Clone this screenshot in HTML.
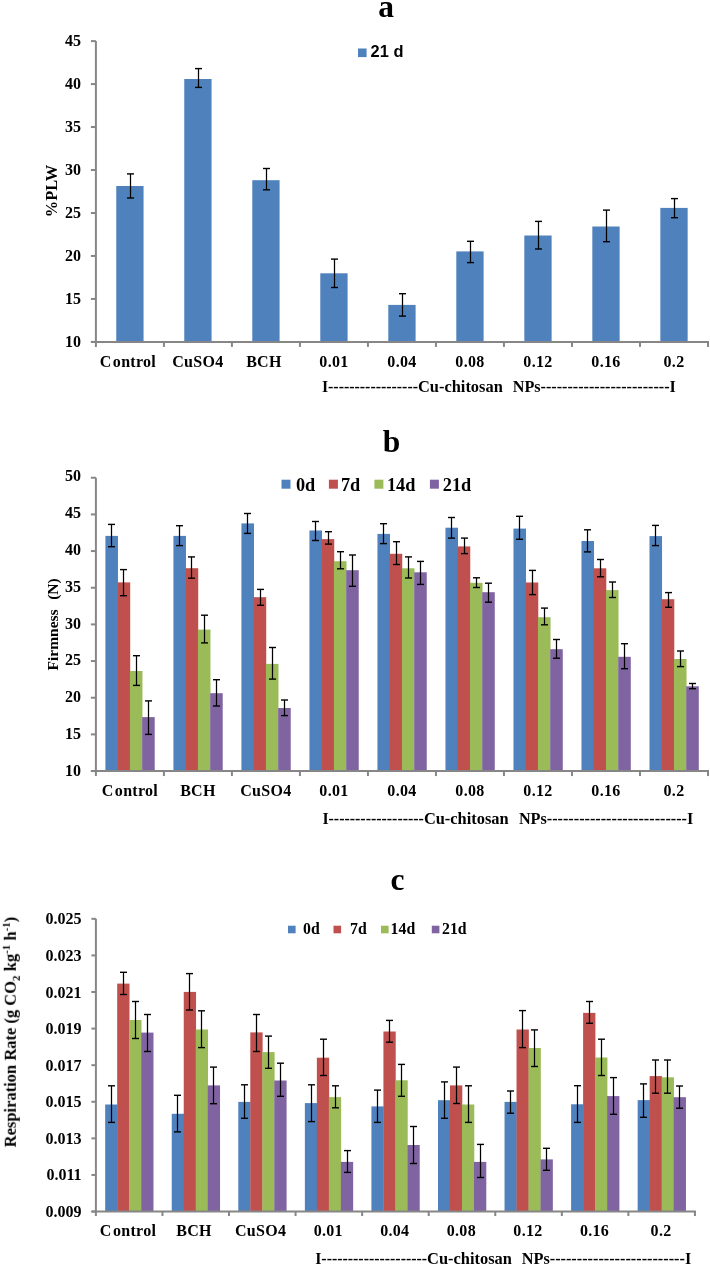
<!DOCTYPE html>
<html><head><meta charset="utf-8"><title>Figure</title>
<style>html,body{margin:0;padding:0;background:#fff;}svg{display:block;}</style></head>
<body><svg width="710" height="1265" viewBox="0 0 710 1265" shape-rendering="crispEdges">
<rect width="710" height="1265" fill="#fff"/>
<g shape-rendering="auto">
<rect x="116.25" y="186.0" width="27.3" height="155.90" fill="#4F81BD"/>
<rect x="184.27" y="79.0" width="27.3" height="262.90" fill="#4F81BD"/>
<rect x="252.28" y="180.2" width="27.3" height="161.70" fill="#4F81BD"/>
<rect x="320.29" y="273.3" width="27.3" height="68.60" fill="#4F81BD"/>
<rect x="388.30" y="304.9" width="27.3" height="37.00" fill="#4F81BD"/>
<rect x="456.31" y="251.4" width="27.3" height="90.50" fill="#4F81BD"/>
<rect x="524.32" y="235.5" width="27.3" height="106.40" fill="#4F81BD"/>
<rect x="592.33" y="226.5" width="27.3" height="115.40" fill="#4F81BD"/>
<rect x="660.34" y="207.9" width="27.3" height="134.00" fill="#4F81BD"/>
<line x1="130.50" y1="173.90" x2="130.50" y2="198.00" stroke="#000" stroke-width="1.25"/>
<line x1="127.00" y1="173.90" x2="134.00" y2="173.90" stroke="#000" stroke-width="1.4"/>
<line x1="127.00" y1="198.00" x2="134.00" y2="198.00" stroke="#000" stroke-width="1.4"/>
<line x1="198.50" y1="68.60" x2="198.50" y2="87.40" stroke="#000" stroke-width="1.25"/>
<line x1="195.00" y1="68.60" x2="202.00" y2="68.60" stroke="#000" stroke-width="1.4"/>
<line x1="195.00" y1="87.40" x2="202.00" y2="87.40" stroke="#000" stroke-width="1.4"/>
<line x1="266.50" y1="168.50" x2="266.50" y2="189.80" stroke="#000" stroke-width="1.25"/>
<line x1="263.00" y1="168.50" x2="270.00" y2="168.50" stroke="#000" stroke-width="1.4"/>
<line x1="263.00" y1="189.80" x2="270.00" y2="189.80" stroke="#000" stroke-width="1.4"/>
<line x1="334.50" y1="259.10" x2="334.50" y2="287.50" stroke="#000" stroke-width="1.25"/>
<line x1="331.00" y1="259.10" x2="338.00" y2="259.10" stroke="#000" stroke-width="1.4"/>
<line x1="331.00" y1="287.50" x2="338.00" y2="287.50" stroke="#000" stroke-width="1.4"/>
<line x1="402.50" y1="293.70" x2="402.50" y2="316.10" stroke="#000" stroke-width="1.25"/>
<line x1="399.00" y1="293.70" x2="406.00" y2="293.70" stroke="#000" stroke-width="1.4"/>
<line x1="399.00" y1="316.10" x2="406.00" y2="316.10" stroke="#000" stroke-width="1.4"/>
<line x1="470.50" y1="241.30" x2="470.50" y2="262.60" stroke="#000" stroke-width="1.25"/>
<line x1="467.00" y1="241.30" x2="474.00" y2="241.30" stroke="#000" stroke-width="1.4"/>
<line x1="467.00" y1="262.60" x2="474.00" y2="262.60" stroke="#000" stroke-width="1.4"/>
<line x1="538.50" y1="221.40" x2="538.50" y2="249.00" stroke="#000" stroke-width="1.25"/>
<line x1="535.00" y1="221.40" x2="542.00" y2="221.40" stroke="#000" stroke-width="1.4"/>
<line x1="535.00" y1="249.00" x2="542.00" y2="249.00" stroke="#000" stroke-width="1.4"/>
<line x1="606.50" y1="210.10" x2="606.50" y2="241.70" stroke="#000" stroke-width="1.25"/>
<line x1="603.00" y1="210.10" x2="610.00" y2="210.10" stroke="#000" stroke-width="1.4"/>
<line x1="603.00" y1="241.70" x2="610.00" y2="241.70" stroke="#000" stroke-width="1.4"/>
<line x1="674.50" y1="198.60" x2="674.50" y2="217.70" stroke="#000" stroke-width="1.25"/>
<line x1="671.00" y1="198.60" x2="678.00" y2="198.60" stroke="#000" stroke-width="1.4"/>
<line x1="671.00" y1="217.70" x2="678.00" y2="217.70" stroke="#000" stroke-width="1.4"/>
<line x1="95.9" y1="41.099999999999966" x2="95.9" y2="346.9" stroke="#868686" stroke-width="2"/>
<line x1="90.9" y1="341.90" x2="95.9" y2="341.90" stroke="#868686" stroke-width="2"/>
<line x1="90.9" y1="298.93" x2="95.9" y2="298.93" stroke="#868686" stroke-width="2"/>
<line x1="90.9" y1="255.96" x2="95.9" y2="255.96" stroke="#868686" stroke-width="2"/>
<line x1="90.9" y1="212.99" x2="95.9" y2="212.99" stroke="#868686" stroke-width="2"/>
<line x1="90.9" y1="170.01" x2="95.9" y2="170.01" stroke="#868686" stroke-width="2"/>
<line x1="90.9" y1="127.04" x2="95.9" y2="127.04" stroke="#868686" stroke-width="2"/>
<line x1="90.9" y1="84.07" x2="95.9" y2="84.07" stroke="#868686" stroke-width="2"/>
<line x1="90.9" y1="41.10" x2="95.9" y2="41.10" stroke="#868686" stroke-width="2"/>
<line x1="90.9" y1="341.9" x2="708.99" y2="341.9" stroke="#868686" stroke-width="2"/>
<line x1="163.91" y1="341.9" x2="163.91" y2="346.9" stroke="#868686" stroke-width="2"/>
<line x1="231.92" y1="341.9" x2="231.92" y2="346.9" stroke="#868686" stroke-width="2"/>
<line x1="299.93" y1="341.9" x2="299.93" y2="346.9" stroke="#868686" stroke-width="2"/>
<line x1="367.94" y1="341.9" x2="367.94" y2="346.9" stroke="#868686" stroke-width="2"/>
<line x1="435.95" y1="341.9" x2="435.95" y2="346.9" stroke="#868686" stroke-width="2"/>
<line x1="503.96" y1="341.9" x2="503.96" y2="346.9" stroke="#868686" stroke-width="2"/>
<line x1="571.97" y1="341.9" x2="571.97" y2="346.9" stroke="#868686" stroke-width="2"/>
<line x1="639.98" y1="341.9" x2="639.98" y2="346.9" stroke="#868686" stroke-width="2"/>
<line x1="707.99" y1="341.9" x2="707.99" y2="346.9" stroke="#868686" stroke-width="2"/>
<rect x="358" y="48.5" width="8.6" height="8.6" fill="#4F81BD"/>
<rect x="105.41" y="535.9" width="12.55" height="235.15" fill="#4F81BD"/>
<rect x="117.66" y="582.4" width="12.55" height="188.65" fill="#C0504D"/>
<rect x="129.91" y="671.0" width="12.55" height="100.05" fill="#9BBB59"/>
<rect x="142.16" y="717.1" width="12.55" height="53.95" fill="#8064A2"/>
<rect x="173.42" y="535.9" width="12.55" height="235.15" fill="#4F81BD"/>
<rect x="185.67" y="568.2" width="12.55" height="202.85" fill="#C0504D"/>
<rect x="197.92" y="629.6" width="12.55" height="141.45" fill="#9BBB59"/>
<rect x="210.17" y="693.2" width="12.55" height="77.85" fill="#8064A2"/>
<rect x="241.43" y="523.4" width="12.55" height="247.65" fill="#4F81BD"/>
<rect x="253.68" y="597.2" width="12.55" height="173.85" fill="#C0504D"/>
<rect x="265.93" y="663.9" width="12.55" height="107.15" fill="#9BBB59"/>
<rect x="278.18" y="708.0" width="12.55" height="63.05" fill="#8064A2"/>
<rect x="309.44" y="530.5" width="12.55" height="240.55" fill="#4F81BD"/>
<rect x="321.69" y="539.1" width="12.55" height="231.95" fill="#C0504D"/>
<rect x="333.94" y="561.2" width="12.55" height="209.85" fill="#9BBB59"/>
<rect x="346.19" y="570.2" width="12.55" height="200.85" fill="#8064A2"/>
<rect x="377.45" y="533.9" width="12.55" height="237.15" fill="#4F81BD"/>
<rect x="389.70" y="553.8" width="12.55" height="217.25" fill="#C0504D"/>
<rect x="401.95" y="568.3" width="12.55" height="202.75" fill="#9BBB59"/>
<rect x="414.20" y="572.3" width="12.55" height="198.75" fill="#8064A2"/>
<rect x="445.46" y="527.7" width="12.55" height="243.35" fill="#4F81BD"/>
<rect x="457.71" y="546.4" width="12.55" height="224.65" fill="#C0504D"/>
<rect x="469.96" y="582.8" width="12.55" height="188.25" fill="#9BBB59"/>
<rect x="482.21" y="592.2" width="12.55" height="178.85" fill="#8064A2"/>
<rect x="513.47" y="528.6" width="12.55" height="242.45" fill="#4F81BD"/>
<rect x="525.72" y="582.5" width="12.55" height="188.55" fill="#C0504D"/>
<rect x="537.97" y="617.2" width="12.55" height="153.85" fill="#9BBB59"/>
<rect x="550.22" y="649.2" width="12.55" height="121.85" fill="#8064A2"/>
<rect x="581.48" y="541.0" width="12.55" height="230.05" fill="#4F81BD"/>
<rect x="593.73" y="568.3" width="12.55" height="202.75" fill="#C0504D"/>
<rect x="605.98" y="590.1" width="12.55" height="180.95" fill="#9BBB59"/>
<rect x="618.23" y="656.8" width="12.55" height="114.25" fill="#8064A2"/>
<rect x="649.49" y="536.1" width="12.55" height="234.95" fill="#4F81BD"/>
<rect x="661.74" y="599.2" width="12.55" height="171.85" fill="#C0504D"/>
<rect x="673.99" y="659.0" width="12.55" height="112.05" fill="#9BBB59"/>
<rect x="686.24" y="686.3" width="12.55" height="84.75" fill="#8064A2"/>
<line x1="111.50" y1="524.40" x2="111.50" y2="546.70" stroke="#000" stroke-width="1.25"/>
<line x1="108.00" y1="524.40" x2="115.00" y2="524.40" stroke="#000" stroke-width="1.4"/>
<line x1="108.00" y1="546.70" x2="115.00" y2="546.70" stroke="#000" stroke-width="1.4"/>
<line x1="123.50" y1="569.60" x2="123.50" y2="595.70" stroke="#000" stroke-width="1.25"/>
<line x1="120.00" y1="569.60" x2="127.00" y2="569.60" stroke="#000" stroke-width="1.4"/>
<line x1="120.00" y1="595.70" x2="127.00" y2="595.70" stroke="#000" stroke-width="1.4"/>
<line x1="136.50" y1="655.70" x2="136.50" y2="685.40" stroke="#000" stroke-width="1.25"/>
<line x1="133.00" y1="655.70" x2="140.00" y2="655.70" stroke="#000" stroke-width="1.4"/>
<line x1="133.00" y1="685.40" x2="140.00" y2="685.40" stroke="#000" stroke-width="1.4"/>
<line x1="148.50" y1="700.90" x2="148.50" y2="734.40" stroke="#000" stroke-width="1.25"/>
<line x1="145.00" y1="700.90" x2="152.00" y2="700.90" stroke="#000" stroke-width="1.4"/>
<line x1="145.00" y1="734.40" x2="152.00" y2="734.40" stroke="#000" stroke-width="1.4"/>
<line x1="179.50" y1="525.70" x2="179.50" y2="545.60" stroke="#000" stroke-width="1.25"/>
<line x1="176.00" y1="525.70" x2="183.00" y2="525.70" stroke="#000" stroke-width="1.4"/>
<line x1="176.00" y1="545.60" x2="183.00" y2="545.60" stroke="#000" stroke-width="1.4"/>
<line x1="191.50" y1="556.90" x2="191.50" y2="578.20" stroke="#000" stroke-width="1.25"/>
<line x1="188.00" y1="556.90" x2="195.00" y2="556.90" stroke="#000" stroke-width="1.4"/>
<line x1="188.00" y1="578.20" x2="195.00" y2="578.20" stroke="#000" stroke-width="1.4"/>
<line x1="204.50" y1="615.20" x2="204.50" y2="642.90" stroke="#000" stroke-width="1.25"/>
<line x1="201.00" y1="615.20" x2="208.00" y2="615.20" stroke="#000" stroke-width="1.4"/>
<line x1="201.00" y1="642.90" x2="208.00" y2="642.90" stroke="#000" stroke-width="1.4"/>
<line x1="216.50" y1="679.70" x2="216.50" y2="706.00" stroke="#000" stroke-width="1.25"/>
<line x1="213.00" y1="679.70" x2="220.00" y2="679.70" stroke="#000" stroke-width="1.4"/>
<line x1="213.00" y1="706.00" x2="220.00" y2="706.00" stroke="#000" stroke-width="1.4"/>
<line x1="247.50" y1="513.50" x2="247.50" y2="533.40" stroke="#000" stroke-width="1.25"/>
<line x1="244.00" y1="513.50" x2="251.00" y2="513.50" stroke="#000" stroke-width="1.4"/>
<line x1="244.00" y1="533.40" x2="251.00" y2="533.40" stroke="#000" stroke-width="1.4"/>
<line x1="260.50" y1="589.40" x2="260.50" y2="605.30" stroke="#000" stroke-width="1.25"/>
<line x1="257.00" y1="589.40" x2="264.00" y2="589.40" stroke="#000" stroke-width="1.4"/>
<line x1="257.00" y1="605.30" x2="264.00" y2="605.30" stroke="#000" stroke-width="1.4"/>
<line x1="272.50" y1="647.50" x2="272.50" y2="679.10" stroke="#000" stroke-width="1.25"/>
<line x1="269.00" y1="647.50" x2="276.00" y2="647.50" stroke="#000" stroke-width="1.4"/>
<line x1="269.00" y1="679.10" x2="276.00" y2="679.10" stroke="#000" stroke-width="1.4"/>
<line x1="284.50" y1="700.00" x2="284.50" y2="715.60" stroke="#000" stroke-width="1.25"/>
<line x1="281.00" y1="700.00" x2="288.00" y2="700.00" stroke="#000" stroke-width="1.4"/>
<line x1="281.00" y1="715.60" x2="288.00" y2="715.60" stroke="#000" stroke-width="1.4"/>
<line x1="315.50" y1="521.50" x2="315.50" y2="540.50" stroke="#000" stroke-width="1.25"/>
<line x1="312.00" y1="521.50" x2="319.00" y2="521.50" stroke="#000" stroke-width="1.4"/>
<line x1="312.00" y1="540.50" x2="319.00" y2="540.50" stroke="#000" stroke-width="1.4"/>
<line x1="328.50" y1="531.70" x2="328.50" y2="544.10" stroke="#000" stroke-width="1.25"/>
<line x1="325.00" y1="531.70" x2="332.00" y2="531.70" stroke="#000" stroke-width="1.4"/>
<line x1="325.00" y1="544.10" x2="332.00" y2="544.10" stroke="#000" stroke-width="1.4"/>
<line x1="340.50" y1="551.70" x2="340.50" y2="568.80" stroke="#000" stroke-width="1.25"/>
<line x1="337.00" y1="551.70" x2="344.00" y2="551.70" stroke="#000" stroke-width="1.4"/>
<line x1="337.00" y1="568.80" x2="344.00" y2="568.80" stroke="#000" stroke-width="1.4"/>
<line x1="352.50" y1="555.00" x2="352.50" y2="586.30" stroke="#000" stroke-width="1.25"/>
<line x1="349.00" y1="555.00" x2="356.00" y2="555.00" stroke="#000" stroke-width="1.4"/>
<line x1="349.00" y1="586.30" x2="356.00" y2="586.30" stroke="#000" stroke-width="1.4"/>
<line x1="383.50" y1="523.70" x2="383.50" y2="543.60" stroke="#000" stroke-width="1.25"/>
<line x1="380.00" y1="523.70" x2="387.00" y2="523.70" stroke="#000" stroke-width="1.4"/>
<line x1="380.00" y1="543.60" x2="387.00" y2="543.60" stroke="#000" stroke-width="1.4"/>
<line x1="396.50" y1="541.70" x2="396.50" y2="564.50" stroke="#000" stroke-width="1.25"/>
<line x1="393.00" y1="541.70" x2="400.00" y2="541.70" stroke="#000" stroke-width="1.4"/>
<line x1="393.00" y1="564.50" x2="400.00" y2="564.50" stroke="#000" stroke-width="1.4"/>
<line x1="408.50" y1="556.90" x2="408.50" y2="578.00" stroke="#000" stroke-width="1.25"/>
<line x1="405.00" y1="556.90" x2="412.00" y2="556.90" stroke="#000" stroke-width="1.4"/>
<line x1="405.00" y1="578.00" x2="412.00" y2="578.00" stroke="#000" stroke-width="1.4"/>
<line x1="420.50" y1="561.40" x2="420.50" y2="584.40" stroke="#000" stroke-width="1.25"/>
<line x1="417.00" y1="561.40" x2="424.00" y2="561.40" stroke="#000" stroke-width="1.4"/>
<line x1="417.00" y1="584.40" x2="424.00" y2="584.40" stroke="#000" stroke-width="1.4"/>
<line x1="451.50" y1="517.50" x2="451.50" y2="538.10" stroke="#000" stroke-width="1.25"/>
<line x1="448.00" y1="517.50" x2="455.00" y2="517.50" stroke="#000" stroke-width="1.4"/>
<line x1="448.00" y1="538.10" x2="455.00" y2="538.10" stroke="#000" stroke-width="1.4"/>
<line x1="464.50" y1="538.10" x2="464.50" y2="553.60" stroke="#000" stroke-width="1.25"/>
<line x1="461.00" y1="538.10" x2="468.00" y2="538.10" stroke="#000" stroke-width="1.4"/>
<line x1="461.00" y1="553.60" x2="468.00" y2="553.60" stroke="#000" stroke-width="1.4"/>
<line x1="476.50" y1="577.80" x2="476.50" y2="587.50" stroke="#000" stroke-width="1.25"/>
<line x1="473.00" y1="577.80" x2="480.00" y2="577.80" stroke="#000" stroke-width="1.4"/>
<line x1="473.00" y1="587.50" x2="480.00" y2="587.50" stroke="#000" stroke-width="1.4"/>
<line x1="488.50" y1="583.20" x2="488.50" y2="602.20" stroke="#000" stroke-width="1.25"/>
<line x1="485.00" y1="583.20" x2="492.00" y2="583.20" stroke="#000" stroke-width="1.4"/>
<line x1="485.00" y1="602.20" x2="492.00" y2="602.20" stroke="#000" stroke-width="1.4"/>
<line x1="519.50" y1="516.30" x2="519.50" y2="539.30" stroke="#000" stroke-width="1.25"/>
<line x1="516.00" y1="516.30" x2="523.00" y2="516.30" stroke="#000" stroke-width="1.4"/>
<line x1="516.00" y1="539.30" x2="523.00" y2="539.30" stroke="#000" stroke-width="1.4"/>
<line x1="532.50" y1="570.40" x2="532.50" y2="594.60" stroke="#000" stroke-width="1.25"/>
<line x1="529.00" y1="570.40" x2="536.00" y2="570.40" stroke="#000" stroke-width="1.4"/>
<line x1="529.00" y1="594.60" x2="536.00" y2="594.60" stroke="#000" stroke-width="1.4"/>
<line x1="544.50" y1="608.10" x2="544.50" y2="624.80" stroke="#000" stroke-width="1.25"/>
<line x1="541.00" y1="608.10" x2="548.00" y2="608.10" stroke="#000" stroke-width="1.4"/>
<line x1="541.00" y1="624.80" x2="548.00" y2="624.80" stroke="#000" stroke-width="1.4"/>
<line x1="556.50" y1="639.50" x2="556.50" y2="658.20" stroke="#000" stroke-width="1.25"/>
<line x1="553.00" y1="639.50" x2="560.00" y2="639.50" stroke="#000" stroke-width="1.4"/>
<line x1="553.00" y1="658.20" x2="560.00" y2="658.20" stroke="#000" stroke-width="1.4"/>
<line x1="587.50" y1="529.80" x2="587.50" y2="551.90" stroke="#000" stroke-width="1.25"/>
<line x1="584.00" y1="529.80" x2="591.00" y2="529.80" stroke="#000" stroke-width="1.4"/>
<line x1="584.00" y1="551.90" x2="591.00" y2="551.90" stroke="#000" stroke-width="1.4"/>
<line x1="600.50" y1="559.50" x2="600.50" y2="576.80" stroke="#000" stroke-width="1.25"/>
<line x1="597.00" y1="559.50" x2="604.00" y2="559.50" stroke="#000" stroke-width="1.4"/>
<line x1="597.00" y1="576.80" x2="604.00" y2="576.80" stroke="#000" stroke-width="1.4"/>
<line x1="612.50" y1="582.00" x2="612.50" y2="597.50" stroke="#000" stroke-width="1.25"/>
<line x1="609.00" y1="582.00" x2="616.00" y2="582.00" stroke="#000" stroke-width="1.4"/>
<line x1="609.00" y1="597.50" x2="616.00" y2="597.50" stroke="#000" stroke-width="1.4"/>
<line x1="624.50" y1="643.70" x2="624.50" y2="668.70" stroke="#000" stroke-width="1.25"/>
<line x1="621.00" y1="643.70" x2="628.00" y2="643.70" stroke="#000" stroke-width="1.4"/>
<line x1="621.00" y1="668.70" x2="628.00" y2="668.70" stroke="#000" stroke-width="1.4"/>
<line x1="655.50" y1="525.40" x2="655.50" y2="545.60" stroke="#000" stroke-width="1.25"/>
<line x1="652.00" y1="525.40" x2="659.00" y2="525.40" stroke="#000" stroke-width="1.4"/>
<line x1="652.00" y1="545.60" x2="659.00" y2="545.60" stroke="#000" stroke-width="1.4"/>
<line x1="668.50" y1="592.60" x2="668.50" y2="607.30" stroke="#000" stroke-width="1.25"/>
<line x1="665.00" y1="592.60" x2="672.00" y2="592.60" stroke="#000" stroke-width="1.4"/>
<line x1="665.00" y1="607.30" x2="672.00" y2="607.30" stroke="#000" stroke-width="1.4"/>
<line x1="680.50" y1="651.00" x2="680.50" y2="666.60" stroke="#000" stroke-width="1.25"/>
<line x1="677.00" y1="651.00" x2="684.00" y2="651.00" stroke="#000" stroke-width="1.4"/>
<line x1="677.00" y1="666.60" x2="684.00" y2="666.60" stroke="#000" stroke-width="1.4"/>
<line x1="692.50" y1="683.50" x2="692.50" y2="688.70" stroke="#000" stroke-width="1.25"/>
<line x1="689.00" y1="683.50" x2="696.00" y2="683.50" stroke="#000" stroke-width="1.4"/>
<line x1="689.00" y1="688.70" x2="696.00" y2="688.70" stroke="#000" stroke-width="1.4"/>
<line x1="95.9" y1="477.74999999999994" x2="95.9" y2="776.05" stroke="#868686" stroke-width="2"/>
<line x1="90.9" y1="771.05" x2="95.9" y2="771.05" stroke="#868686" stroke-width="2"/>
<line x1="90.9" y1="734.39" x2="95.9" y2="734.39" stroke="#868686" stroke-width="2"/>
<line x1="90.9" y1="697.72" x2="95.9" y2="697.72" stroke="#868686" stroke-width="2"/>
<line x1="90.9" y1="661.06" x2="95.9" y2="661.06" stroke="#868686" stroke-width="2"/>
<line x1="90.9" y1="624.40" x2="95.9" y2="624.40" stroke="#868686" stroke-width="2"/>
<line x1="90.9" y1="587.74" x2="95.9" y2="587.74" stroke="#868686" stroke-width="2"/>
<line x1="90.9" y1="551.07" x2="95.9" y2="551.07" stroke="#868686" stroke-width="2"/>
<line x1="90.9" y1="514.41" x2="95.9" y2="514.41" stroke="#868686" stroke-width="2"/>
<line x1="90.9" y1="477.75" x2="95.9" y2="477.75" stroke="#868686" stroke-width="2"/>
<line x1="90.9" y1="771.05" x2="708.99" y2="771.05" stroke="#868686" stroke-width="2"/>
<line x1="163.91" y1="771.05" x2="163.91" y2="776.05" stroke="#868686" stroke-width="2"/>
<line x1="231.92" y1="771.05" x2="231.92" y2="776.05" stroke="#868686" stroke-width="2"/>
<line x1="299.93" y1="771.05" x2="299.93" y2="776.05" stroke="#868686" stroke-width="2"/>
<line x1="367.94" y1="771.05" x2="367.94" y2="776.05" stroke="#868686" stroke-width="2"/>
<line x1="435.95" y1="771.05" x2="435.95" y2="776.05" stroke="#868686" stroke-width="2"/>
<line x1="503.96" y1="771.05" x2="503.96" y2="776.05" stroke="#868686" stroke-width="2"/>
<line x1="571.97" y1="771.05" x2="571.97" y2="776.05" stroke="#868686" stroke-width="2"/>
<line x1="639.98" y1="771.05" x2="639.98" y2="776.05" stroke="#868686" stroke-width="2"/>
<line x1="707.99" y1="771.05" x2="707.99" y2="776.05" stroke="#868686" stroke-width="2"/>
<rect x="281.5" y="479.7" width="9" height="9" fill="#4F81BD"/>
<rect x="328.9" y="479.7" width="9" height="9" fill="#C0504D"/>
<rect x="374.4" y="479.7" width="9" height="9" fill="#9BBB59"/>
<rect x="429.9" y="479.7" width="9" height="9" fill="#8064A2"/>
<rect x="105.18" y="1104.5" width="12.30" height="107.05" fill="#4F81BD"/>
<rect x="117.18" y="983.6" width="12.30" height="227.95" fill="#C0504D"/>
<rect x="129.18" y="1020.0" width="12.30" height="191.55" fill="#9BBB59"/>
<rect x="141.18" y="1032.6" width="12.30" height="178.95" fill="#8064A2"/>
<rect x="171.74" y="1113.8" width="12.30" height="97.75" fill="#4F81BD"/>
<rect x="183.74" y="991.9" width="12.30" height="219.65" fill="#C0504D"/>
<rect x="195.74" y="1029.5" width="12.30" height="182.05" fill="#9BBB59"/>
<rect x="207.74" y="1085.4" width="12.30" height="126.15" fill="#8064A2"/>
<rect x="238.30" y="1101.9" width="12.30" height="109.65" fill="#4F81BD"/>
<rect x="250.30" y="1032.4" width="12.30" height="179.15" fill="#C0504D"/>
<rect x="262.30" y="1052.1" width="12.30" height="159.45" fill="#9BBB59"/>
<rect x="274.30" y="1080.5" width="12.30" height="131.05" fill="#8064A2"/>
<rect x="304.86" y="1103.1" width="12.30" height="108.45" fill="#4F81BD"/>
<rect x="316.86" y="1057.7" width="12.30" height="153.85" fill="#C0504D"/>
<rect x="328.86" y="1097.1" width="12.30" height="114.45" fill="#9BBB59"/>
<rect x="340.86" y="1161.9" width="12.30" height="49.65" fill="#8064A2"/>
<rect x="371.42" y="1106.4" width="12.30" height="105.15" fill="#4F81BD"/>
<rect x="383.42" y="1031.5" width="12.30" height="180.05" fill="#C0504D"/>
<rect x="395.42" y="1080.3" width="12.30" height="131.25" fill="#9BBB59"/>
<rect x="407.42" y="1145.0" width="12.30" height="66.55" fill="#8064A2"/>
<rect x="437.98" y="1100.2" width="12.30" height="111.35" fill="#4F81BD"/>
<rect x="449.98" y="1085.4" width="12.30" height="126.15" fill="#C0504D"/>
<rect x="461.98" y="1104.5" width="12.30" height="107.05" fill="#9BBB59"/>
<rect x="473.98" y="1161.9" width="12.30" height="49.65" fill="#8064A2"/>
<rect x="504.54" y="1101.9" width="12.30" height="109.65" fill="#4F81BD"/>
<rect x="516.54" y="1029.5" width="12.30" height="182.05" fill="#C0504D"/>
<rect x="528.54" y="1048.0" width="12.30" height="163.55" fill="#9BBB59"/>
<rect x="540.54" y="1159.4" width="12.30" height="52.15" fill="#8064A2"/>
<rect x="571.10" y="1104.3" width="12.30" height="107.25" fill="#4F81BD"/>
<rect x="583.10" y="1012.9" width="12.30" height="198.65" fill="#C0504D"/>
<rect x="595.10" y="1057.5" width="12.30" height="154.05" fill="#9BBB59"/>
<rect x="607.10" y="1096.1" width="12.30" height="115.45" fill="#8064A2"/>
<rect x="637.66" y="1100.1" width="12.30" height="111.45" fill="#4F81BD"/>
<rect x="649.66" y="1076.1" width="12.30" height="135.45" fill="#C0504D"/>
<rect x="661.66" y="1077.3" width="12.30" height="134.25" fill="#9BBB59"/>
<rect x="673.66" y="1097.2" width="12.30" height="114.35" fill="#8064A2"/>
<line x1="111.50" y1="1085.80" x2="111.50" y2="1122.40" stroke="#000" stroke-width="1.25"/>
<line x1="108.00" y1="1085.80" x2="115.00" y2="1085.80" stroke="#000" stroke-width="1.4"/>
<line x1="108.00" y1="1122.40" x2="115.00" y2="1122.40" stroke="#000" stroke-width="1.4"/>
<line x1="123.50" y1="972.30" x2="123.50" y2="994.50" stroke="#000" stroke-width="1.25"/>
<line x1="120.00" y1="972.30" x2="127.00" y2="972.30" stroke="#000" stroke-width="1.4"/>
<line x1="120.00" y1="994.50" x2="127.00" y2="994.50" stroke="#000" stroke-width="1.4"/>
<line x1="135.50" y1="1001.50" x2="135.50" y2="1038.50" stroke="#000" stroke-width="1.25"/>
<line x1="132.00" y1="1001.50" x2="139.00" y2="1001.50" stroke="#000" stroke-width="1.4"/>
<line x1="132.00" y1="1038.50" x2="139.00" y2="1038.50" stroke="#000" stroke-width="1.4"/>
<line x1="147.50" y1="1014.50" x2="147.50" y2="1051.50" stroke="#000" stroke-width="1.25"/>
<line x1="144.00" y1="1014.50" x2="151.00" y2="1014.50" stroke="#000" stroke-width="1.4"/>
<line x1="144.00" y1="1051.50" x2="151.00" y2="1051.50" stroke="#000" stroke-width="1.4"/>
<line x1="177.50" y1="1095.30" x2="177.50" y2="1131.90" stroke="#000" stroke-width="1.25"/>
<line x1="174.00" y1="1095.30" x2="181.00" y2="1095.30" stroke="#000" stroke-width="1.4"/>
<line x1="174.00" y1="1131.90" x2="181.00" y2="1131.90" stroke="#000" stroke-width="1.4"/>
<line x1="189.50" y1="973.60" x2="189.50" y2="1010.00" stroke="#000" stroke-width="1.25"/>
<line x1="186.00" y1="973.60" x2="193.00" y2="973.60" stroke="#000" stroke-width="1.4"/>
<line x1="186.00" y1="1010.00" x2="193.00" y2="1010.00" stroke="#000" stroke-width="1.4"/>
<line x1="201.50" y1="1010.80" x2="201.50" y2="1047.60" stroke="#000" stroke-width="1.25"/>
<line x1="198.00" y1="1010.80" x2="205.00" y2="1010.80" stroke="#000" stroke-width="1.4"/>
<line x1="198.00" y1="1047.60" x2="205.00" y2="1047.60" stroke="#000" stroke-width="1.4"/>
<line x1="213.50" y1="1067.10" x2="213.50" y2="1103.70" stroke="#000" stroke-width="1.25"/>
<line x1="210.00" y1="1067.10" x2="217.00" y2="1067.10" stroke="#000" stroke-width="1.4"/>
<line x1="210.00" y1="1103.70" x2="217.00" y2="1103.70" stroke="#000" stroke-width="1.4"/>
<line x1="244.50" y1="1084.80" x2="244.50" y2="1118.30" stroke="#000" stroke-width="1.25"/>
<line x1="241.00" y1="1084.80" x2="248.00" y2="1084.80" stroke="#000" stroke-width="1.4"/>
<line x1="241.00" y1="1118.30" x2="248.00" y2="1118.30" stroke="#000" stroke-width="1.4"/>
<line x1="256.50" y1="1014.50" x2="256.50" y2="1051.50" stroke="#000" stroke-width="1.25"/>
<line x1="253.00" y1="1014.50" x2="260.00" y2="1014.50" stroke="#000" stroke-width="1.4"/>
<line x1="253.00" y1="1051.50" x2="260.00" y2="1051.50" stroke="#000" stroke-width="1.4"/>
<line x1="268.50" y1="1036.10" x2="268.50" y2="1068.30" stroke="#000" stroke-width="1.25"/>
<line x1="265.00" y1="1036.10" x2="272.00" y2="1036.10" stroke="#000" stroke-width="1.4"/>
<line x1="265.00" y1="1068.30" x2="272.00" y2="1068.30" stroke="#000" stroke-width="1.4"/>
<line x1="280.50" y1="1063.20" x2="280.50" y2="1096.30" stroke="#000" stroke-width="1.25"/>
<line x1="277.00" y1="1063.20" x2="284.00" y2="1063.20" stroke="#000" stroke-width="1.4"/>
<line x1="277.00" y1="1096.30" x2="284.00" y2="1096.30" stroke="#000" stroke-width="1.4"/>
<line x1="311.50" y1="1084.80" x2="311.50" y2="1121.60" stroke="#000" stroke-width="1.25"/>
<line x1="308.00" y1="1084.80" x2="315.00" y2="1084.80" stroke="#000" stroke-width="1.4"/>
<line x1="308.00" y1="1121.60" x2="315.00" y2="1121.60" stroke="#000" stroke-width="1.4"/>
<line x1="323.50" y1="1039.20" x2="323.50" y2="1075.50" stroke="#000" stroke-width="1.25"/>
<line x1="320.00" y1="1039.20" x2="327.00" y2="1039.20" stroke="#000" stroke-width="1.4"/>
<line x1="320.00" y1="1075.50" x2="327.00" y2="1075.50" stroke="#000" stroke-width="1.4"/>
<line x1="335.50" y1="1085.80" x2="335.50" y2="1107.80" stroke="#000" stroke-width="1.25"/>
<line x1="332.00" y1="1085.80" x2="339.00" y2="1085.80" stroke="#000" stroke-width="1.4"/>
<line x1="332.00" y1="1107.80" x2="339.00" y2="1107.80" stroke="#000" stroke-width="1.4"/>
<line x1="347.50" y1="1150.60" x2="347.50" y2="1172.40" stroke="#000" stroke-width="1.25"/>
<line x1="344.00" y1="1150.60" x2="351.00" y2="1150.60" stroke="#000" stroke-width="1.4"/>
<line x1="344.00" y1="1172.40" x2="351.00" y2="1172.40" stroke="#000" stroke-width="1.4"/>
<line x1="377.50" y1="1090.10" x2="377.50" y2="1122.40" stroke="#000" stroke-width="1.25"/>
<line x1="374.00" y1="1090.10" x2="381.00" y2="1090.10" stroke="#000" stroke-width="1.4"/>
<line x1="374.00" y1="1122.40" x2="381.00" y2="1122.40" stroke="#000" stroke-width="1.4"/>
<line x1="389.50" y1="1020.40" x2="389.50" y2="1042.20" stroke="#000" stroke-width="1.25"/>
<line x1="386.00" y1="1020.40" x2="393.00" y2="1020.40" stroke="#000" stroke-width="1.4"/>
<line x1="386.00" y1="1042.20" x2="393.00" y2="1042.20" stroke="#000" stroke-width="1.4"/>
<line x1="401.50" y1="1064.40" x2="401.50" y2="1096.30" stroke="#000" stroke-width="1.25"/>
<line x1="398.00" y1="1064.40" x2="405.00" y2="1064.40" stroke="#000" stroke-width="1.4"/>
<line x1="398.00" y1="1096.30" x2="405.00" y2="1096.30" stroke="#000" stroke-width="1.4"/>
<line x1="413.50" y1="1126.50" x2="413.50" y2="1163.50" stroke="#000" stroke-width="1.25"/>
<line x1="410.00" y1="1126.50" x2="417.00" y2="1126.50" stroke="#000" stroke-width="1.4"/>
<line x1="410.00" y1="1163.50" x2="417.00" y2="1163.50" stroke="#000" stroke-width="1.4"/>
<line x1="444.50" y1="1081.90" x2="444.50" y2="1118.30" stroke="#000" stroke-width="1.25"/>
<line x1="441.00" y1="1081.90" x2="448.00" y2="1081.90" stroke="#000" stroke-width="1.4"/>
<line x1="441.00" y1="1118.30" x2="448.00" y2="1118.30" stroke="#000" stroke-width="1.4"/>
<line x1="456.50" y1="1067.10" x2="456.50" y2="1103.50" stroke="#000" stroke-width="1.25"/>
<line x1="453.00" y1="1067.10" x2="460.00" y2="1067.10" stroke="#000" stroke-width="1.4"/>
<line x1="453.00" y1="1103.50" x2="460.00" y2="1103.50" stroke="#000" stroke-width="1.4"/>
<line x1="468.50" y1="1085.80" x2="468.50" y2="1122.40" stroke="#000" stroke-width="1.25"/>
<line x1="465.00" y1="1085.80" x2="472.00" y2="1085.80" stroke="#000" stroke-width="1.4"/>
<line x1="465.00" y1="1122.40" x2="472.00" y2="1122.40" stroke="#000" stroke-width="1.4"/>
<line x1="480.50" y1="1144.40" x2="480.50" y2="1177.50" stroke="#000" stroke-width="1.25"/>
<line x1="477.00" y1="1144.40" x2="484.00" y2="1144.40" stroke="#000" stroke-width="1.4"/>
<line x1="477.00" y1="1177.50" x2="484.00" y2="1177.50" stroke="#000" stroke-width="1.4"/>
<line x1="510.50" y1="1091.00" x2="510.50" y2="1113.20" stroke="#000" stroke-width="1.25"/>
<line x1="507.00" y1="1091.00" x2="514.00" y2="1091.00" stroke="#000" stroke-width="1.4"/>
<line x1="507.00" y1="1113.20" x2="514.00" y2="1113.20" stroke="#000" stroke-width="1.4"/>
<line x1="522.50" y1="1010.60" x2="522.50" y2="1047.60" stroke="#000" stroke-width="1.25"/>
<line x1="519.00" y1="1010.60" x2="526.00" y2="1010.60" stroke="#000" stroke-width="1.4"/>
<line x1="519.00" y1="1047.60" x2="526.00" y2="1047.60" stroke="#000" stroke-width="1.4"/>
<line x1="534.50" y1="1029.90" x2="534.50" y2="1066.50" stroke="#000" stroke-width="1.25"/>
<line x1="531.00" y1="1029.90" x2="538.00" y2="1029.90" stroke="#000" stroke-width="1.4"/>
<line x1="531.00" y1="1066.50" x2="538.00" y2="1066.50" stroke="#000" stroke-width="1.4"/>
<line x1="546.50" y1="1148.30" x2="546.50" y2="1170.30" stroke="#000" stroke-width="1.25"/>
<line x1="543.00" y1="1148.30" x2="550.00" y2="1148.30" stroke="#000" stroke-width="1.4"/>
<line x1="543.00" y1="1170.30" x2="550.00" y2="1170.30" stroke="#000" stroke-width="1.4"/>
<line x1="577.50" y1="1085.70" x2="577.50" y2="1122.40" stroke="#000" stroke-width="1.25"/>
<line x1="574.00" y1="1085.70" x2="581.00" y2="1085.70" stroke="#000" stroke-width="1.4"/>
<line x1="574.00" y1="1122.40" x2="581.00" y2="1122.40" stroke="#000" stroke-width="1.4"/>
<line x1="589.50" y1="1001.50" x2="589.50" y2="1023.30" stroke="#000" stroke-width="1.25"/>
<line x1="586.00" y1="1001.50" x2="593.00" y2="1001.50" stroke="#000" stroke-width="1.4"/>
<line x1="586.00" y1="1023.30" x2="593.00" y2="1023.30" stroke="#000" stroke-width="1.4"/>
<line x1="601.50" y1="1039.20" x2="601.50" y2="1075.50" stroke="#000" stroke-width="1.25"/>
<line x1="598.00" y1="1039.20" x2="605.00" y2="1039.20" stroke="#000" stroke-width="1.4"/>
<line x1="598.00" y1="1075.50" x2="605.00" y2="1075.50" stroke="#000" stroke-width="1.4"/>
<line x1="613.50" y1="1077.60" x2="613.50" y2="1114.30" stroke="#000" stroke-width="1.25"/>
<line x1="610.00" y1="1077.60" x2="617.00" y2="1077.60" stroke="#000" stroke-width="1.4"/>
<line x1="610.00" y1="1114.30" x2="617.00" y2="1114.30" stroke="#000" stroke-width="1.4"/>
<line x1="643.50" y1="1083.90" x2="643.50" y2="1117.30" stroke="#000" stroke-width="1.25"/>
<line x1="640.00" y1="1083.90" x2="647.00" y2="1083.90" stroke="#000" stroke-width="1.4"/>
<line x1="640.00" y1="1117.30" x2="647.00" y2="1117.30" stroke="#000" stroke-width="1.4"/>
<line x1="655.50" y1="1060.00" x2="655.50" y2="1093.20" stroke="#000" stroke-width="1.25"/>
<line x1="652.00" y1="1060.00" x2="659.00" y2="1060.00" stroke="#000" stroke-width="1.4"/>
<line x1="652.00" y1="1093.20" x2="659.00" y2="1093.20" stroke="#000" stroke-width="1.4"/>
<line x1="667.50" y1="1060.00" x2="667.50" y2="1093.20" stroke="#000" stroke-width="1.25"/>
<line x1="664.00" y1="1060.00" x2="671.00" y2="1060.00" stroke="#000" stroke-width="1.4"/>
<line x1="664.00" y1="1093.20" x2="671.00" y2="1093.20" stroke="#000" stroke-width="1.4"/>
<line x1="679.50" y1="1086.00" x2="679.50" y2="1108.20" stroke="#000" stroke-width="1.25"/>
<line x1="676.00" y1="1086.00" x2="683.00" y2="1086.00" stroke="#000" stroke-width="1.4"/>
<line x1="676.00" y1="1108.20" x2="683.00" y2="1108.20" stroke="#000" stroke-width="1.4"/>
<line x1="95.9" y1="918.8299999999999" x2="95.9" y2="1216.05" stroke="#868686" stroke-width="2"/>
<line x1="91.4" y1="1211.55" x2="95.9" y2="1211.55" stroke="#868686" stroke-width="2"/>
<line x1="91.4" y1="1174.96" x2="95.9" y2="1174.96" stroke="#868686" stroke-width="2"/>
<line x1="91.4" y1="1138.37" x2="95.9" y2="1138.37" stroke="#868686" stroke-width="2"/>
<line x1="91.4" y1="1101.78" x2="95.9" y2="1101.78" stroke="#868686" stroke-width="2"/>
<line x1="91.4" y1="1065.19" x2="95.9" y2="1065.19" stroke="#868686" stroke-width="2"/>
<line x1="91.4" y1="1028.60" x2="95.9" y2="1028.60" stroke="#868686" stroke-width="2"/>
<line x1="91.4" y1="992.01" x2="95.9" y2="992.01" stroke="#868686" stroke-width="2"/>
<line x1="91.4" y1="955.42" x2="95.9" y2="955.42" stroke="#868686" stroke-width="2"/>
<line x1="91.4" y1="918.83" x2="95.9" y2="918.83" stroke="#868686" stroke-width="2"/>
<line x1="91.4" y1="1211.55" x2="695.9399999999999" y2="1211.55" stroke="#868686" stroke-width="2"/>
<line x1="162.46" y1="1211.55" x2="162.46" y2="1216.05" stroke="#868686" stroke-width="2"/>
<line x1="229.02" y1="1211.55" x2="229.02" y2="1216.05" stroke="#868686" stroke-width="2"/>
<line x1="295.58" y1="1211.55" x2="295.58" y2="1216.05" stroke="#868686" stroke-width="2"/>
<line x1="362.14" y1="1211.55" x2="362.14" y2="1216.05" stroke="#868686" stroke-width="2"/>
<line x1="428.70" y1="1211.55" x2="428.70" y2="1216.05" stroke="#868686" stroke-width="2"/>
<line x1="495.26" y1="1211.55" x2="495.26" y2="1216.05" stroke="#868686" stroke-width="2"/>
<line x1="561.82" y1="1211.55" x2="561.82" y2="1216.05" stroke="#868686" stroke-width="2"/>
<line x1="628.38" y1="1211.55" x2="628.38" y2="1216.05" stroke="#868686" stroke-width="2"/>
<line x1="694.94" y1="1211.55" x2="694.94" y2="1216.05" stroke="#868686" stroke-width="2"/>
<rect x="288" y="925.7" width="7.6" height="7.6" fill="#4F81BD"/>
<rect x="333.5" y="925.7" width="7.6" height="7.6" fill="#C0504D"/>
<rect x="381" y="925.7" width="7.6" height="7.6" fill="#9BBB59"/>
<rect x="431.8" y="925.7" width="7.6" height="7.6" fill="#8064A2"/>
</g>
<g style="filter:grayscale(1)">
<text x="81" y="346.7" font-size="16" text-anchor="end" font-family='"Liberation Serif", serif' font-weight="bold" >10</text>
<text x="81" y="303.7285714285714" font-size="16" text-anchor="end" font-family='"Liberation Serif", serif' font-weight="bold" >15</text>
<text x="81" y="260.7571428571428" font-size="16" text-anchor="end" font-family='"Liberation Serif", serif' font-weight="bold" >20</text>
<text x="81" y="217.78571428571428" font-size="16" text-anchor="end" font-family='"Liberation Serif", serif' font-weight="bold" >25</text>
<text x="81" y="174.8142857142857" font-size="16" text-anchor="end" font-family='"Liberation Serif", serif' font-weight="bold" >30</text>
<text x="81" y="131.84285714285713" font-size="16" text-anchor="end" font-family='"Liberation Serif", serif' font-weight="bold" >35</text>
<text x="81" y="88.87142857142855" font-size="16" text-anchor="end" font-family='"Liberation Serif", serif' font-weight="bold" >40</text>
<text x="81" y="45.89999999999996" font-size="16" text-anchor="end" font-family='"Liberation Serif", serif' font-weight="bold" >45</text>
<text x="127.905" y="366.6" font-size="16" text-anchor="middle" font-family='"Liberation Serif", serif' font-weight="bold" letter-spacing="0.3" >C<tspan dx="1.3">ontrol</tspan></text>
<text x="197.91500000000002" y="366.6" font-size="16" text-anchor="middle" font-family='"Liberation Serif", serif' font-weight="bold" letter-spacing="0.3" >CuSO4</text>
<text x="263.925" y="366.6" font-size="16" text-anchor="middle" font-family='"Liberation Serif", serif' font-weight="bold" letter-spacing="0.3" >BCH</text>
<text x="333.93500000000006" y="366.6" font-size="16" text-anchor="middle" font-family='"Liberation Serif", serif' font-weight="bold" letter-spacing="0.3" >0.01</text>
<text x="401.94500000000005" y="366.6" font-size="16" text-anchor="middle" font-family='"Liberation Serif", serif' font-weight="bold" letter-spacing="0.3" >0.04</text>
<text x="469.95500000000004" y="366.6" font-size="16" text-anchor="middle" font-family='"Liberation Serif", serif' font-weight="bold" letter-spacing="0.3" >0.08</text>
<text x="537.965" y="366.6" font-size="16" text-anchor="middle" font-family='"Liberation Serif", serif' font-weight="bold" letter-spacing="0.3" >0.12</text>
<text x="605.975" y="366.6" font-size="16" text-anchor="middle" font-family='"Liberation Serif", serif' font-weight="bold" letter-spacing="0.3" >0.16</text>
<text x="673.985" y="366.6" font-size="16" text-anchor="middle" font-family='"Liberation Serif", serif' font-weight="bold" letter-spacing="0.3" >0.2</text>
<text x="321.9" y="392" font-size="16" text-anchor="start" font-family='"Liberation Serif", serif' font-weight="bold" textLength="96.1" lengthAdjust="spacingAndGlyphs">I-----------------</text>
<text x="418.0" y="392" font-size="16" text-anchor="start" font-family='"Liberation Serif", serif' font-weight="bold" textLength="84.8" lengthAdjust="spacingAndGlyphs">Cu-chitosan</text>
<text x="512.8" y="392" font-size="16" text-anchor="start" font-family='"Liberation Serif", serif' font-weight="bold" textLength="163.0" lengthAdjust="spacingAndGlyphs">NPs------------------------I</text>
<text x="386" y="16.7" font-size="31.5" text-anchor="middle" font-family='"Liberation Serif", serif' font-weight="bold" >a</text>
<text x="370.6" y="57" font-size="16.4" text-anchor="start" font-family='"Liberation Sans", sans-serif' font-weight="bold" >21 d</text>
<text x="57" y="191" font-size="16.4" text-anchor="middle" font-family='"Liberation Serif", serif' font-weight="bold" transform="rotate(-90 57 191)">%PLW</text>
<text x="81" y="775.89" font-size="16" text-anchor="end" font-family='"Liberation Serif", serif' font-weight="bold" >10</text>
<text x="81" y="739.06" font-size="16" text-anchor="end" font-family='"Liberation Serif", serif' font-weight="bold" >15</text>
<text x="81" y="702.23" font-size="16" text-anchor="end" font-family='"Liberation Serif", serif' font-weight="bold" >20</text>
<text x="81" y="665.4" font-size="16" text-anchor="end" font-family='"Liberation Serif", serif' font-weight="bold" >25</text>
<text x="81" y="628.5699999999999" font-size="16" text-anchor="end" font-family='"Liberation Serif", serif' font-weight="bold" >30</text>
<text x="81" y="591.74" font-size="16" text-anchor="end" font-family='"Liberation Serif", serif' font-weight="bold" >35</text>
<text x="81" y="554.91" font-size="16" text-anchor="end" font-family='"Liberation Serif", serif' font-weight="bold" >40</text>
<text x="81" y="518.08" font-size="16" text-anchor="end" font-family='"Liberation Serif", serif' font-weight="bold" >45</text>
<text x="81" y="481.25" font-size="16" text-anchor="end" font-family='"Liberation Serif", serif' font-weight="bold" >50</text>
<text x="129.905" y="795.6" font-size="16" text-anchor="middle" font-family='"Liberation Serif", serif' font-weight="bold" letter-spacing="0.3" >C<tspan dx="1.3">ontrol</tspan></text>
<text x="197.91500000000002" y="795.6" font-size="16" text-anchor="middle" font-family='"Liberation Serif", serif' font-weight="bold" letter-spacing="0.3" >BCH</text>
<text x="265.925" y="795.6" font-size="16" text-anchor="middle" font-family='"Liberation Serif", serif' font-weight="bold" letter-spacing="0.3" >CuSO4</text>
<text x="333.93500000000006" y="795.6" font-size="16" text-anchor="middle" font-family='"Liberation Serif", serif' font-weight="bold" letter-spacing="0.3" >0.01</text>
<text x="401.94500000000005" y="795.6" font-size="16" text-anchor="middle" font-family='"Liberation Serif", serif' font-weight="bold" letter-spacing="0.3" >0.04</text>
<text x="469.95500000000004" y="795.6" font-size="16" text-anchor="middle" font-family='"Liberation Serif", serif' font-weight="bold" letter-spacing="0.3" >0.08</text>
<text x="537.965" y="795.6" font-size="16" text-anchor="middle" font-family='"Liberation Serif", serif' font-weight="bold" letter-spacing="0.3" >0.12</text>
<text x="605.975" y="795.6" font-size="16" text-anchor="middle" font-family='"Liberation Serif", serif' font-weight="bold" letter-spacing="0.3" >0.16</text>
<text x="673.985" y="795.6" font-size="16" text-anchor="middle" font-family='"Liberation Serif", serif' font-weight="bold" letter-spacing="0.3" >0.2</text>
<text x="322.4" y="824" font-size="16" text-anchor="start" font-family='"Liberation Serif", serif' font-weight="bold" textLength="101.5" lengthAdjust="spacingAndGlyphs">I------------------</text>
<text x="423.9" y="824" font-size="16" text-anchor="start" font-family='"Liberation Serif", serif' font-weight="bold" textLength="84.8" lengthAdjust="spacingAndGlyphs">Cu-chitosan</text>
<text x="518.9" y="824" font-size="16" text-anchor="start" font-family='"Liberation Serif", serif' font-weight="bold" textLength="174.4" lengthAdjust="spacingAndGlyphs">NPs--------------------------I</text>
<text x="391.5" y="451.6" font-size="31.5" text-anchor="middle" font-family='"Liberation Serif", serif' font-weight="bold" >b</text>
<text x="295.9" y="490.8" font-size="18.3" text-anchor="start" font-family='"Liberation Serif", serif' font-weight="bold" >0d</text>
<text x="340.9" y="490.8" font-size="18.3" text-anchor="start" font-family='"Liberation Serif", serif' font-weight="bold" >7d</text>
<text x="386.9" y="490.8" font-size="18.3" text-anchor="start" font-family='"Liberation Serif", serif' font-weight="bold" >14d</text>
<text x="442.8" y="490.8" font-size="18.3" text-anchor="start" font-family='"Liberation Serif", serif' font-weight="bold" >21d</text>
<text x="58.4" y="670.5" font-size="15.5" text-anchor="start" font-family='"Liberation Serif", serif' font-weight="bold" transform="rotate(-90 58.4 670.5)">Firmness</text>
<text x="58.4" y="578.3" font-size="15.5" text-anchor="end" font-family='"Liberation Serif", serif' font-weight="bold" transform="rotate(-90 58.4 578.3)">(N)</text>
<text x="81.5" y="1217.05" font-size="16" text-anchor="end" font-family='"Liberation Serif", serif' font-weight="bold" >0.009</text>
<text x="81.5" y="1180.46" font-size="16" text-anchor="end" font-family='"Liberation Serif", serif' font-weight="bold" >0.011</text>
<text x="81.5" y="1143.87" font-size="16" text-anchor="end" font-family='"Liberation Serif", serif' font-weight="bold" >0.013</text>
<text x="81.5" y="1107.28" font-size="16" text-anchor="end" font-family='"Liberation Serif", serif' font-weight="bold" >0.015</text>
<text x="81.5" y="1070.69" font-size="16" text-anchor="end" font-family='"Liberation Serif", serif' font-weight="bold" >0.017</text>
<text x="81.5" y="1034.1" font-size="16" text-anchor="end" font-family='"Liberation Serif", serif' font-weight="bold" >0.019</text>
<text x="81.5" y="997.51" font-size="16" text-anchor="end" font-family='"Liberation Serif", serif' font-weight="bold" >0.021</text>
<text x="81.5" y="960.92" font-size="16" text-anchor="end" font-family='"Liberation Serif", serif' font-weight="bold" >0.023</text>
<text x="81.5" y="924.3299999999999" font-size="16" text-anchor="end" font-family='"Liberation Serif", serif' font-weight="bold" >0.025</text>
<text x="127.98" y="1236.1" font-size="16" text-anchor="middle" font-family='"Liberation Serif", serif' font-weight="bold" letter-spacing="0.3" >C<tspan dx="1.3">ontrol</tspan></text>
<text x="194.04000000000002" y="1236.1" font-size="16" text-anchor="middle" font-family='"Liberation Serif", serif' font-weight="bold" letter-spacing="0.3" >BCH</text>
<text x="260.6" y="1236.1" font-size="16" text-anchor="middle" font-family='"Liberation Serif", serif' font-weight="bold" letter-spacing="0.3" >CuSO4</text>
<text x="328.26" y="1236.1" font-size="16" text-anchor="middle" font-family='"Liberation Serif", serif' font-weight="bold" letter-spacing="0.3" >0.01</text>
<text x="394.81999999999994" y="1236.1" font-size="16" text-anchor="middle" font-family='"Liberation Serif", serif' font-weight="bold" letter-spacing="0.3" >0.04</text>
<text x="461.38" y="1236.1" font-size="16" text-anchor="middle" font-family='"Liberation Serif", serif' font-weight="bold" letter-spacing="0.3" >0.08</text>
<text x="527.9399999999999" y="1236.1" font-size="16" text-anchor="middle" font-family='"Liberation Serif", serif' font-weight="bold" letter-spacing="0.3" >0.12</text>
<text x="594.5" y="1236.1" font-size="16" text-anchor="middle" font-family='"Liberation Serif", serif' font-weight="bold" letter-spacing="0.3" >0.16</text>
<text x="661.06" y="1236.1" font-size="16" text-anchor="middle" font-family='"Liberation Serif", serif' font-weight="bold" letter-spacing="0.3" >0.2</text>
<text x="315.2" y="1264" font-size="16" text-anchor="start" font-family='"Liberation Serif", serif' font-weight="bold" textLength="111.9" lengthAdjust="spacingAndGlyphs">I--------------------</text>
<text x="427.1" y="1264" font-size="16" text-anchor="start" font-family='"Liberation Serif", serif' font-weight="bold" textLength="84.8" lengthAdjust="spacingAndGlyphs">Cu-chitosan</text>
<text x="521.8" y="1264" font-size="16" text-anchor="start" font-family='"Liberation Serif", serif' font-weight="bold" textLength="169.4" lengthAdjust="spacingAndGlyphs">NPs-------------------------I</text>
<text x="397.5" y="890.4" font-size="31.5" text-anchor="middle" font-family='"Liberation Serif", serif' font-weight="bold" >c</text>
<text x="303.0" y="934.0" font-size="15.8" text-anchor="start" font-family='"Liberation Serif", serif' font-weight="bold" >0d</text>
<text x="350.0" y="934.0" font-size="15.8" text-anchor="start" font-family='"Liberation Serif", serif' font-weight="bold" >7d</text>
<text x="390.6" y="934.0" font-size="15.8" text-anchor="start" font-family='"Liberation Serif", serif' font-weight="bold" >14d</text>
<text x="442.0" y="934.0" font-size="15.8" text-anchor="start" font-family='"Liberation Serif", serif' font-weight="bold" >21d</text>
<text x="15.8" y="1032" font-size="16.5" text-anchor="middle" font-family='"Liberation Serif", serif' font-weight="bold" transform="rotate(-90 15.8 1032)">Respiration Rate (g CO<tspan font-size="11" dy="4">2</tspan><tspan dy="-4"> kg</tspan><tspan font-size="11" dy="-6">-1</tspan><tspan dy="6"> h</tspan><tspan font-size="11" dy="-6">-1</tspan><tspan dy="6">)</tspan></text>
</g>
</svg></body></html>
